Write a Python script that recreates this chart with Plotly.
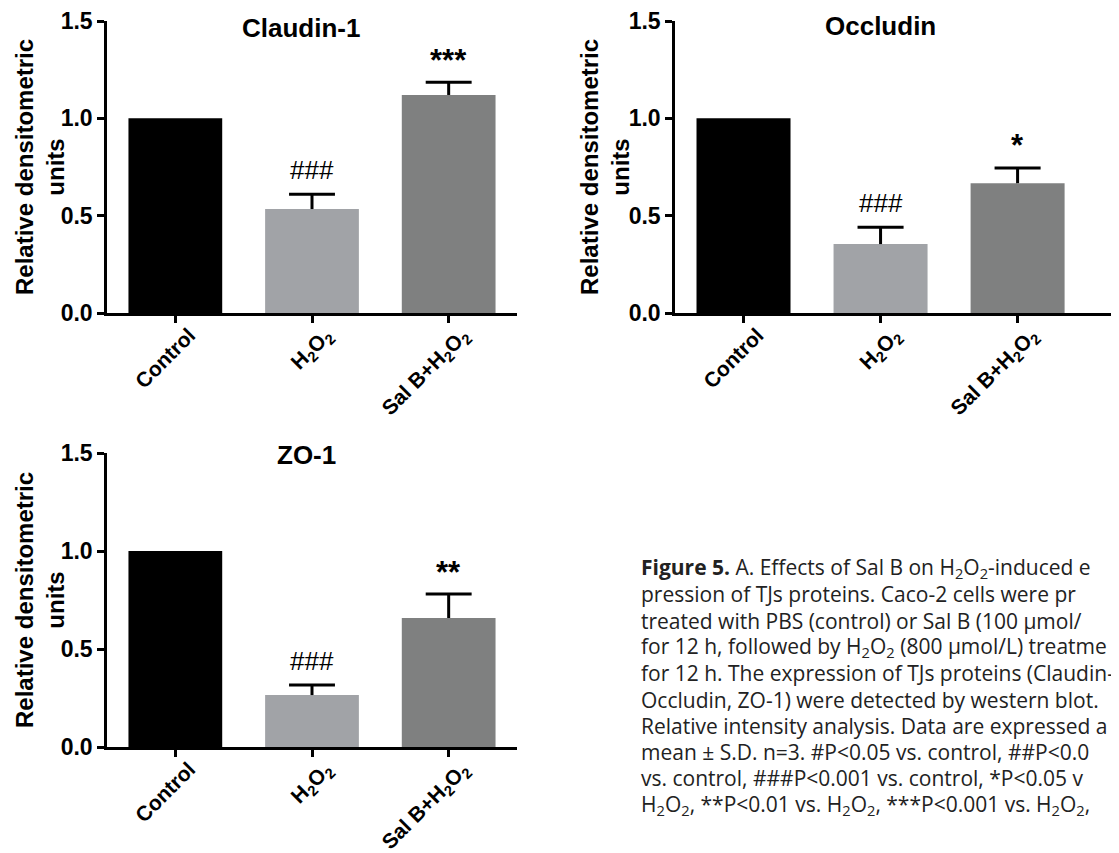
import plotly.graph_objects as go

# ---------------- data ----------------
categories = ["Control", "H<sub>2</sub>O<sub>2</sub>", "Sal B+H<sub>2</sub>O<sub>2</sub>"]

claudin_mean = [1.00, 0.534, 1.120]
claudin_sd = [0.0, 0.076, 0.066]
claudin_sig = ["", "###", "***"]

occludin_mean = [1.00, 0.354, 0.667]
occludin_sd = [0.0, 0.086, 0.078]
occludin_sig = ["", "###", "*"]

zo1_mean = [1.00, 0.265, 0.658]
zo1_sd = [0.0, 0.051, 0.122]
zo1_sig = ["", "###", "**"]

panel_titles = ["Claudin-1", "Occludin", "ZO-1"]
y_tick_vals = [0.0, 0.5, 1.0, 1.5]
y_tick_text = ["0.0", "0.5", "1.0", "1.5"]
y_title = "Relative densitometric<br>units"

caption_lines = [
    "<b>Figure 5.</b> A. Effects of Sal B on H<sub>2</sub>O<sub>2</sub>-induced e",
    "pression of TJs proteins. Caco-2 cells were pr",
    "treated with PBS (control) or Sal B (100 μmol/",
    "for 12 h, followed by H<sub>2</sub>O<sub>2</sub> (800 μmol/L) treatme",
    "for 12 h. The expression of TJs proteins (Claudin-",
    "Occludin, ZO-1) were detected by western blot.",
    "Relative intensity analysis. Data are expressed a",
    "mean ± S.D. n=3. #P<0.05 vs. control, ##P<0.0",
    "vs. control, ###P<0.001 vs. control, *P<0.05 v",
    "H<sub>2</sub>O<sub>2</sub>, **P<0.01 vs. H<sub>2</sub>O<sub>2</sub>, ***P<0.001 vs. H<sub>2</sub>O<sub>2</sub>,",
]

# ---------------- styling ----------------
PAGE_W, PAGE_H = 1119, 853
OFF = 8  # page body margin; figure sized to fill the rest of the window
W, H = PAGE_W - OFF, PAGE_H - OFF
bar_colors = ["#000000", "#a1a3a7", "#7f8080"]
FONT = "Liberation Sans, Arial, sans-serif"
CAP_FONT = "Open Sans, Noto Sans, sans-serif"


def px_x(p):
    return (p - OFF) / W


def px_y(p):
    return 1 - (p - OFF) / H


panels = [
    dict(mean=claudin_mean, sd=claudin_sd, sig=claudin_sig, title=panel_titles[0],
         xdom=(107, 517), ydom=(313, 21), xrange=[-0.5, 2.5], title_x=0.92, title_y=28, ytitle_x=40),
    dict(mean=occludin_mean, sd=occludin_sd, sig=occludin_sig, title=panel_titles[1],
         xdom=(675, 1119), ydom=(313, 21), xrange=[-0.5, 2.74], title_x=1.0, title_y=26, ytitle_x=605),
    dict(mean=zo1_mean, sd=zo1_sd, sig=zo1_sig, title=panel_titles[2],
         xdom=(107, 517), ydom=(747, 453), xrange=[-0.5, 2.5], title_x=0.96, title_y=455, ytitle_x=40),
]

fig = go.Figure()
annotations = []
layout_axes = {}
bar_width = 0.686
cap_half = 0.168

for k, p in enumerate(panels, start=1):
    xa = "x" if k == 1 else f"x{k}"
    ya = "y" if k == 1 else f"y{k}"
    xs = list(range(len(categories)))

    fig.add_trace(go.Bar(
        x=xs, y=p["mean"], width=bar_width,
        marker=dict(color=bar_colors, line=dict(width=0)),
        xaxis=xa, yaxis=ya, hoverinfo="skip",
    ))

    # upper error whiskers
    wx, wy = [], []
    for i, (m, s) in enumerate(zip(p["mean"], p["sd"])):
        if s <= 0:
            continue
        wx += [i, i, None, i - cap_half, i + cap_half, None]
        wy += [m, m + s, None, m + s, m + s, None]
    fig.add_trace(go.Scatter(
        x=wx, y=wy, mode="lines", line=dict(color="black", width=3),
        xaxis=xa, yaxis=ya, hoverinfo="skip",
    ))

    # significance marks
    for i, (m, s, t) in enumerate(zip(p["mean"], p["sd"], p["sig"])):
        if not t:
            continue
        is_star = t.startswith("*")
        annotations.append(dict(
            x=i, y=m + s, xref=xa, yref=ya, text=t, showarrow=False,
            xanchor="center", yanchor="middle", yshift=22 if is_star else 24,
            font=dict(family=FONT, size=31 if is_star else 26, color="black",
                      weight="bold" if is_star else "normal"),
        ))

    # panel title
    annotations.append(dict(
        x=p["title_x"], y=px_y(p["title_y"]), xref=xa, yref="paper",
        text=p["title"], showarrow=False, xanchor="center", yanchor="middle",
        font=dict(family=FONT, size=26, color="black", weight="bold"),
    ))

    # y-axis title
    annotations.append(dict(
        x=px_x(p["ytitle_x"]), y=px_y((p["ydom"][0] + p["ydom"][1]) / 2),
        xref="paper", yref="paper", text=y_title, textangle=-90, showarrow=False,
        xanchor="center", yanchor="middle",
        font=dict(family=FONT, size=24, color="black", weight="bold"),
    ))

    xkey = "xaxis" if k == 1 else f"xaxis{k}"
    ykey = "yaxis" if k == 1 else f"yaxis{k}"
    layout_axes[xkey] = dict(
        domain=[px_x(p["xdom"][0]), min(1.0, px_x(p["xdom"][1]))], range=p["xrange"], anchor=ya,
        tickmode="array", tickvals=xs, ticktext=categories, tickangle=-45,
        ticks="outside", ticklen=7, tickwidth=2.5, tickcolor="black",
        ticklabelshift=14, ticklabelstandoff=-8,
        showline=True, linewidth=2.5, linecolor="black",
        showgrid=False, zeroline=False, fixedrange=True, automargin=False,
        tickfont=dict(family=FONT, size=21, color="black", weight="bold"),
    )
    layout_axes[ykey] = dict(
        domain=[px_y(p["ydom"][0]), px_y(p["ydom"][1])], range=[0, 1.5], anchor=xa,
        tickmode="array", tickvals=y_tick_vals, ticktext=y_tick_text,
        ticks="outside", ticklen=7, tickwidth=2.5, tickcolor="black",
        showline=True, linewidth=2.5, linecolor="black",
        showgrid=False, zeroline=False, fixedrange=True, automargin=False,
        tickfont=dict(family=FONT, size=23, color="black", weight="bold"),
    )

# caption
for i, line in enumerate(caption_lines):
    annotations.append(dict(
        x=px_x(639), y=px_y(568 + 26.3 * i), xref="paper", yref="paper",
        text=line, showarrow=False, xanchor="left", yanchor="middle", align="left",
        font=dict(family=CAP_FONT, size=21, color="#222222"),
    ))

fig.update_layout(
    width=W, height=H, margin=dict(l=0, r=0, t=0, b=0, autoexpand=False),
    paper_bgcolor="white", plot_bgcolor="white", showlegend=False,
    barmode="overlay", annotations=annotations, **layout_axes,
)

fig.write_html("out.html")
